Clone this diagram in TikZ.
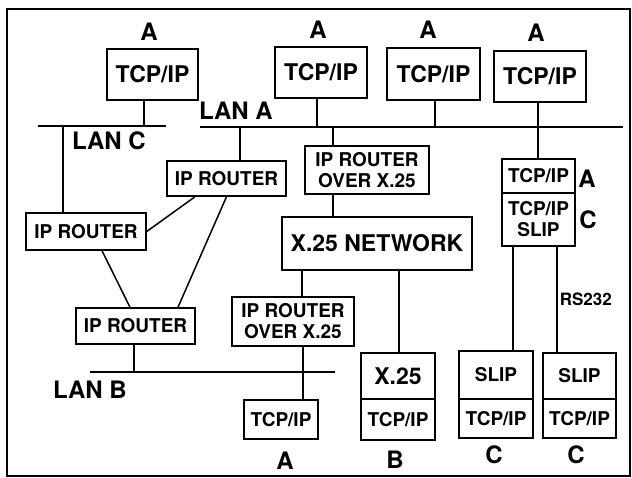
\documentclass[tikz,border=0pt]{standalone}
\usepackage{fontspec}
\setmainfont{TeX Gyre Heros}
\usetikzlibrary{positioning}

\begin{document}
\begin{tikzpicture}[x=1pt, y=-1pt, line width=1.5pt,
    box/.style={draw, line width=1.5pt, inner sep=0pt, align=center},
    big/.style={font=\fontsize{23}{25}\selectfont\bfseries},
    mid/.style={font=\fontsize{19}{21}\selectfont\bfseries},
    tag/.style={inner sep=0pt, font=\fontsize{24}{26}\selectfont\bfseries}]
    \useasboundingbox (0,0) rectangle (632,478);
    \draw (7,9) rectangle (630,476);

    % hosts on top
    \node[box, big, minimum width=91pt, minimum height=51pt] (hostC) at (152.5,74.5) {TCP/IP};
    \node[box, big, minimum width=92pt, minimum height=51pt] (hostA1) at (321,72.5) {TCP/IP};
    \node[box, big, minimum width=93pt, minimum height=52pt] (hostA2) at (433.5,74) {TCP/IP};
    \node[box, big, minimum width=92pt, minimum height=51pt] (hostA3) at (540,76.5) {TCP/IP};
    \node[tag] (tagC) at (149,32) {A};
    \node[tag] (tagA1) at (318,30) {A};
    \node[tag] (tagA2) at (428,30) {A};
    \node[tag] (tagA3) at (536,33) {A};

    % routers
    \node[box, mid, minimum width=119pt, minimum height=35pt] (rtA) at (226.5,178.5) {IP ROUTER};
    \node[box, mid, minimum width=120pt, minimum height=37pt] (rtC) at (86,231.5) {IP ROUTER};
    \node[box, mid, minimum width=119pt, minimum height=36pt] (rtB) at (135.5,326) {IP ROUTER};
    \node[box, mid, minimum width=124pt, minimum height=48pt] (xrA) at (367,170) {IP ROUTER\\OVER X.25};
    \node[box, big, minimum width=190pt, minimum height=53pt] (net) at (377,243.5) {X.25 NETWORK};
    \node[box, mid, minimum width=122pt, minimum height=49pt] (xrB) at (293,321.5) {IP ROUTER\\OVER X.25};

    % hosts at the bottom
    \node[box, mid, minimum width=74pt, minimum height=39pt] (hostB) at (281,419.5) {TCP/IP};
    \node[box, big, minimum width=74pt, minimum height=46pt] (xhost) at (398,376) {X.25};
    \node[box, mid, minimum width=74pt, minimum height=41pt] (xhostip) at (398,419.5) {TCP/IP};
    \node[box, mid, minimum width=74pt, minimum height=48pt] (slipL) at (496,375) {SLIP};
    \node[box, mid, minimum width=74pt, minimum height=39pt] (slipLip) at (496,418.5) {TCP/IP};
    \node[box, mid, minimum width=73pt, minimum height=46pt] (slipR) at (579.5,376) {SLIP};
    \node[box, mid, minimum width=73pt, minimum height=39pt] (slipRip) at (579.5,418.5) {TCP/IP};
    \node[tag] (tagB1) at (285,461) {A};
    \node[tag] (tagB2) at (395,460) {B};
    \node[tag] (tagS1) at (494,455) {C};
    \node[tag] (tagS2) at (576,455) {C};

    % slip gateway
    \node[box, mid, minimum width=73pt, minimum height=34pt] (gwA) at (538.5,176) {TCP/IP};
    \node[box, mid, minimum width=73pt, minimum height=53pt] (gwC) at (538.5,219.5) {TCP/IP\\SLIP};
    \node[tag] (tagGA) at (587,179) {A};
    \node[tag] (tagGC) at (588,220) {C};

    % LANs
    \coordinate (lanAw) at (200,127);
    \coordinate (lanAe) at (623,127);
    \coordinate (lanCw) at (38,126);
    \coordinate (lanCe) at (166,126);
    \coordinate (lanBw) at (90,372);
    \coordinate (lanBe) at (335,372);
    \draw (lanAw) -- (lanAe);
    \draw (lanCw) -- (lanCe);
    \draw (lanBw) -- (lanBe);
    \node[tag] (lanA) at (236,111) {LAN A};
    \node[tag] (lanC) at (109,141) {LAN C};
    \node[tag] (lanB) at (90,390) {LAN B};

    % taps
    \draw ([xshift=-8.5pt]hostC.south) -- ([xshift=-8.5pt]hostC.south |- lanCw);
    \draw ([xshift=-23pt]rtC.north) -- ([xshift=-23pt]rtC.north |- lanCw);
    \draw ([xshift=-4pt]hostA1.south) -- ([xshift=-4pt]hostA1.south |- lanAw);
    \draw ([xshift=1.5pt]hostA2.south) -- ([xshift=1.5pt]hostA2.south |- lanAw);
    \draw ([xshift=-2pt]hostA3.south) -- ([xshift=-0.5pt]gwA.north);
    \draw ([xshift=13.5pt]rtA.north) -- ([xshift=13.5pt]rtA.north |- lanAw);
    \draw ([xshift=-34pt]xrA.north) -- ([xshift=-34pt]xrA.north |- lanAw);
    \draw ([xshift=-1.5pt]rtB.south) -- ([xshift=-1.5pt]rtB.south |- lanBw);

    % links
    \draw ([xshift=-31.5pt]rtA.south) -- (rtC.east);
    \draw (rtA.south) -- ([xshift=42.5pt]rtB.north);
    \draw ([xshift=16pt]rtC.south) -- ([xshift=-5.5pt]rtB.north);
    \draw ([xshift=-34pt]xrA.south) -- ([xshift=-44pt]net.north);
    \draw ([xshift=-75pt]net.south) -- ([xshift=9pt]xrB.north);
    \draw ([xshift=10pt]xrB.south) -- ([xshift=22pt]hostB.north);
    \draw ([xshift=22pt]net.south) -- ([xshift=1pt]xhost.north);
    \draw ([xshift=-25.5pt]gwC.south) -- ([xshift=17pt]slipL.north);
    \draw ([xshift=18.5pt]gwC.south) -- node[right=2pt, inner sep=0pt, font=\fontsize{17}{19}\selectfont\bfseries] (rs) {RS232} ([xshift=-22.5pt]slipR.north);
\end{tikzpicture}
\end{document}
